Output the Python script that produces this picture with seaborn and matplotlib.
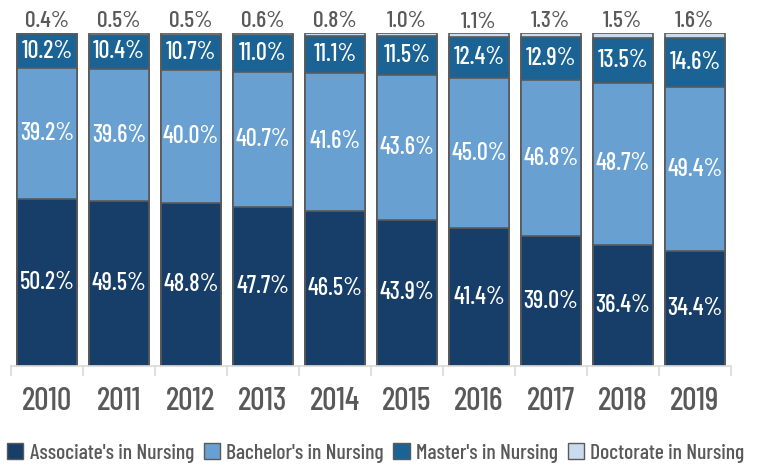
import numpy as np
import pandas as pd
import seaborn as sns
import matplotlib.pyplot as plt

years = ['2010', '2011', '2012', '2013', '2014', '2015', '2016', '2017', '2018', '2019']
associate = [50.2, 49.5, 48.8, 47.7, 46.5, 43.9, 41.4, 39.0, 36.4, 34.4]
bachelor = [39.2, 39.6, 40.0, 40.7, 41.6, 43.6, 45.0, 46.8, 48.7, 49.4]
master = [10.2, 10.4, 10.7, 11.0, 11.1, 11.5, 12.4, 12.9, 13.5, 14.6]
doctorate = [0.4, 0.5, 0.5, 0.6, 0.8, 1.0, 1.1, 1.3, 1.5, 1.6]

series = ["Associate's in Nursing", "Bachelor's in Nursing", "Master's in Nursing", "Doctorate in Nursing"]
colors = ['#173e69', '#68a0d2', '#1a6394', '#c9dcef']

sns.set_theme(style='white')
plt.rcParams['font.family'] = ['Barlow Condensed', 'DejaVu Sans']
plt.rcParams['font.weight'] = 'medium'

df = pd.DataFrame({'year': years, series[0]: associate, series[1]: bachelor,
                   series[2]: master, series[3]: doctorate})
cum = df[series].cumsum(axis=1)

fig = plt.figure(figsize=(7.59, 4.68), dpi=100)
ax = fig.add_axes([0.0145, 0.218, 0.9485, 0.7115])

# draw cumulative totals from the top layer down so they stack
for name, col in reversed(list(zip(series, colors))):
    sns.barplot(x=df['year'], y=cum[name], color=col, width=0.83,
                edgecolor='#5a5a5a', linewidth=1.2, ax=ax, saturation=1)

for i in range(len(years)):
    lo = 0
    for name in series[:3]:
        v = df[name][i]
        ax.text(i, lo + v / 2, f'{v:.1f}%', ha='center', va='center',
                color='white', fontsize=17.5)
        lo += v
    ax.text(i, cum[series[3]][i] + 0.5, f'{doctorate[i]:.1f}%', ha='center',
            va='bottom', color='#595959', fontsize=17)

ax.set_ylim(0, 100)
ax.set_xlim(-0.5, len(years) - 0.5)
ax.set_xlabel('')
ax.set_ylabel('')
ax.set_yticks([])
for s in ['top', 'right', 'left']:
    ax.spines[s].set_visible(False)
ax.spines['bottom'].set_color('#d9d9d9')
ax.spines['bottom'].set_linewidth(1.2)
ax.set_xticks(np.arange(-0.5, len(years)), minor=True)
ax.tick_params(axis='x', which='minor', bottom=True, length=7, color='#d9d9d9', width=1.2)
ax.tick_params(axis='x', which='major', length=0, pad=15, labelsize=23, labelcolor='#595959')

handles = [plt.Rectangle((0, 0), 1, 1, facecolor=c, edgecolor='#5a5a5a', linewidth=1) for c in colors]
fig.legend(handles, series, loc='center', bbox_to_anchor=(0.495, 0.032), ncol=4, frameon=False,
           fontsize=15.5, labelcolor='#595959', handlelength=0.75, handleheight=0.75,
           handletextpad=0.3, columnspacing=0.45, borderpad=0)

fig.savefig('out.png', dpi=100)
